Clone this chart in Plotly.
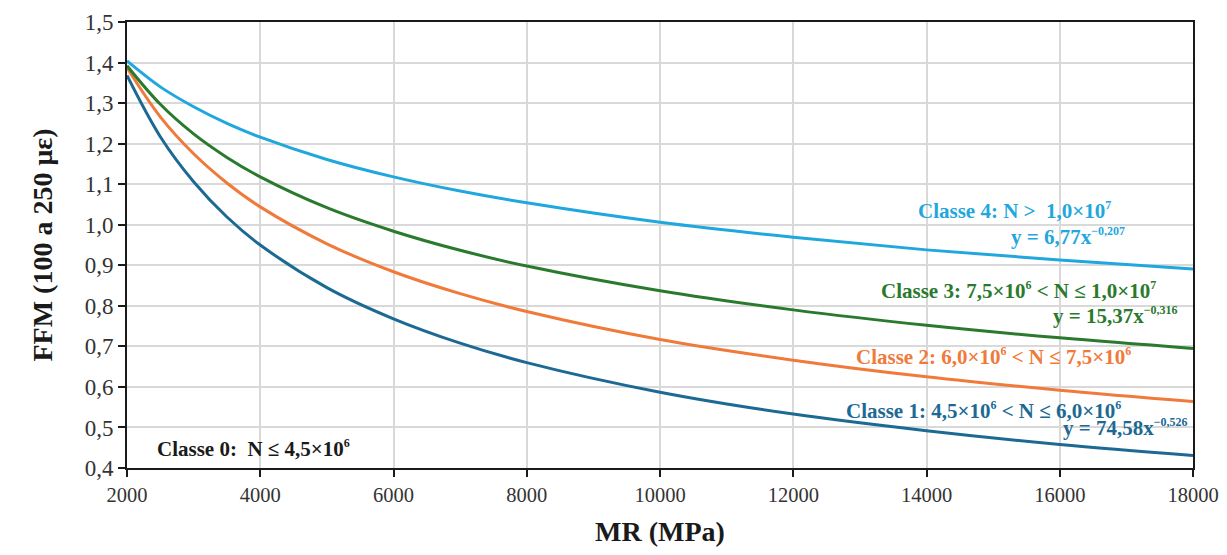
import plotly.graph_objects as go

mr = [2000, 2500, 3000, 3500, 4000, 5000, 6000, 7000, 8000, 10000, 12000, 14000, 16000, 18000]
classe1 = [1.368, 1.217, 1.106, 1.019, 0.950, 0.845, 0.768, 0.708, 0.660, 0.587, 0.533, 0.492, 0.458, 0.431]
classe2 = [1.387, 1.266, 1.175, 1.103, 1.044, 0.953, 0.884, 0.830, 0.786, 0.717, 0.666, 0.625, 0.592, 0.564]
classe3 = [1.392, 1.297, 1.224, 1.166, 1.118, 1.042, 0.984, 0.937, 0.898, 0.837, 0.790, 0.752, 0.721, 0.695]
classe4 = [1.404, 1.340, 1.291, 1.250, 1.216, 1.161, 1.118, 1.083, 1.054, 1.006, 0.969, 0.938, 0.913, 0.891]

x_ticks = [2000, 4000, 6000, 8000, 10000, 12000, 14000, 16000, 18000]
y_ticks = [0.4, 0.5, 0.6, 0.7, 0.8, 0.9, 1.0, 1.1, 1.2, 1.3, 1.4, 1.5]

c1, c2, c3, c4 = "#1C6A94", "#F07A3A", "#2A7A2E", "#1FA7DE"
FONT = "Liberation Serif"


def sup(s):
    return "<sup><span style='font-size:12px'>" + s + "</span></sup>"


fig = go.Figure()
for ys, col in [(classe1, c1), (classe2, c2), (classe3, c3), (classe4, c4)]:
    fig.add_trace(go.Scatter(x=mr, y=ys, mode="lines", line=dict(color=col, width=3, shape="spline"),
                             showlegend=False, hoverinfo="skip"))

ann = [
    ("Classe 4: N >  1,0×10" + sup("7"), 16800, 1.034, "right", c4),
    ("y = 6,77x" + sup("−0,207"), 17010, 0.970, "right", c4),
    ("Classe 3: 7,5×10" + sup("6") + " < N ≤ 1,0×10" + sup("7"), 17475, 0.839, "right", c3),
    ("y = 15,37x" + sup("−0,316"), 17805, 0.777, "right", c3),
    ("Classe 2: 6,0×10" + sup("6") + " < N ≤ 7,5×10" + sup("6"), 17100, 0.674, "right", c2),
    ("y = 31,31x" + sup("−0,41"), 18060, 0.629, "right", c2),
    ("Classe 1: 4,5×10" + sup("6") + " < N ≤ 6,0×10" + sup("6"), 16950, 0.543, "right", c1),
    ("y = 74,58x" + sup("−0,526"), 17955, 0.501, "right", c1),
    ("Classe 0:  N ≤ 4,5×10" + sup("6"), 2420, 0.447, "left", "#1a1a1a"),
]
for txt, x, y, anchor, col in ann:
    fig.add_annotation(x=x, y=y, xref="x", yref="y", text="<b>" + txt + "</b>", showarrow=False,
                       xanchor=anchor, yanchor="middle", font=dict(family=FONT, size=21, color=col))

fig.update_layout(
    width=1219, height=539,
    margin=dict(l=119, r=34, t=14, b=79, autoexpand=False),
    plot_bgcolor="white", paper_bgcolor="white",
    separators=", ",
    font=dict(family=FONT, size=22, color="#333333"),
)
fig.update_xaxes(range=[2000, 18000], tickvals=x_ticks, tickformat="d", automargin=False,
                 showgrid=True, gridcolor="#D9D9D9", gridwidth=1.5,
                 showline=True, linecolor="#1a1a1a", linewidth=2, mirror=True,
                 ticks="outside", ticklen=7, tickcolor="#1a1a1a", tickwidth=2,
                 tickfont=dict(family=FONT, size=20.5, color="#333333"),
                 title=dict(text="<b>MR (MPa)</b>", font=dict(family=FONT, size=28, color="#1a1a1a"), standoff=19),
                 zeroline=False)
fig.update_yaxes(range=[0.4, 1.5], tickvals=y_ticks, tickformat=".1f", automargin=False,
                 showgrid=True, gridcolor="#D9D9D9", gridwidth=1.5,
                 showline=True, linecolor="#1a1a1a", linewidth=2, mirror=True,
                 ticks="outside", ticklen=7, tickcolor="#1a1a1a", tickwidth=2,
                 tickfont=dict(family=FONT, size=23, color="#333333"),
                 title=dict(text="<b>FFM (100 a 250 με)</b>", font=dict(family=FONT, size=28, color="#1a1a1a"), standoff=24),
                 zeroline=False)

fig.write_html("out.html")
